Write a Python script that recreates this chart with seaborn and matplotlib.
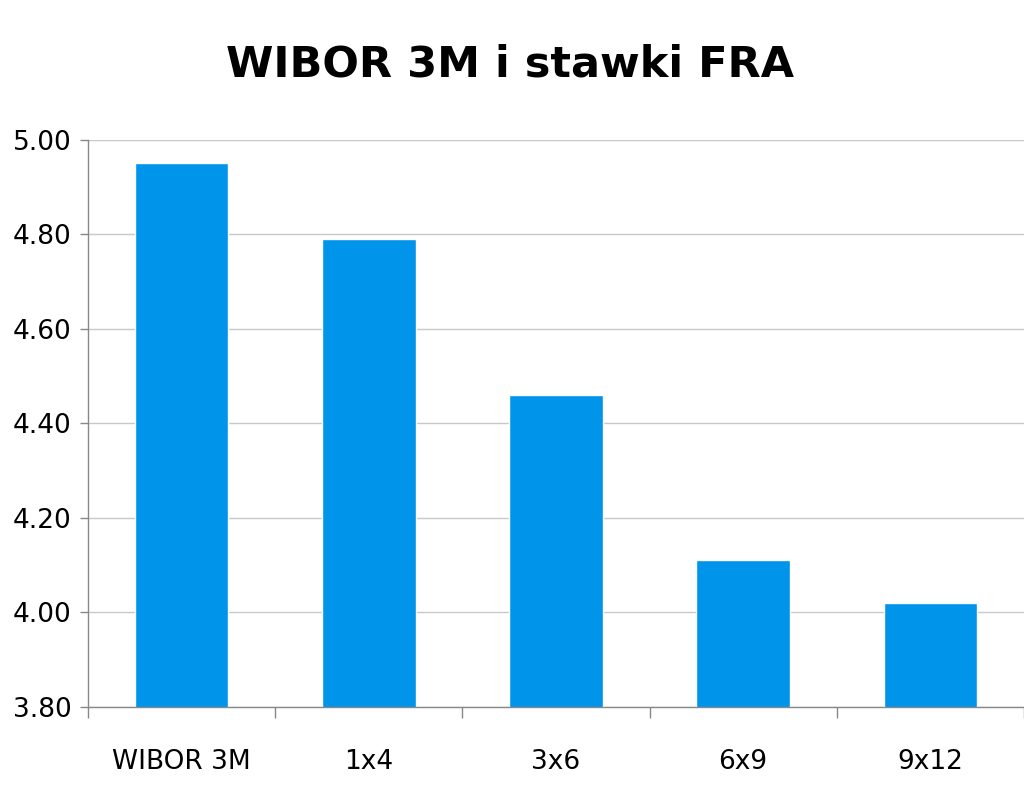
import numpy as np
import seaborn as sns
import matplotlib.pyplot as plt
from matplotlib.ticker import FixedLocator

categories = ["WIBOR 3M", "1x4", "3x6", "6x9", "9x12"]
rates = [4.95, 4.79, 4.46, 4.11, 4.02]
y_ticks = [3.80, 4.00, 4.20, 4.40, 4.60, 4.80, 5.00]

sns.set_theme(style="white")
plt.rcParams["font.family"] = ["DejaVu Sans"]

fig = plt.figure(figsize=(10.24, 7.91), dpi=100)
ax = fig.add_axes([0.0859, 0.1062, 0.914, 0.717])

sns.barplot(x=categories, y=rates, color="#0095EA", width=0.5, saturation=1, ax=ax)

ax.set_ylim(3.80, 5.00)
ax.set_xlim(-0.5, len(categories) - 0.5)
ax.set_yticks(y_ticks)
ax.set_yticklabels([f"{v:.2f}" for v in y_ticks], fontsize=19)
ax.set_xticks(range(len(categories)))
ax.set_xticklabels(categories, fontsize=19)
ax.xaxis.set_minor_locator(FixedLocator(np.arange(-0.5, len(categories), 1.0)))
ax.tick_params(axis="x", which="major", length=0, pad=30, labelcolor="black")
ax.tick_params(axis="x", which="minor", length=8, width=1, color="#888888", bottom=True)
ax.tick_params(axis="y", length=6, width=1, color="#888888", left=True, pad=6,
               labelcolor="black")
ax.grid(axis="y", color="#c8c8c8", linewidth=1)
ax.set_axisbelow(True)
ax.set_xlabel("")
ax.set_ylabel("")

for side in ["top", "right"]:
    ax.spines[side].set_visible(False)
for side in ["left", "bottom"]:
    ax.spines[side].set_color("#888888")
    ax.spines[side].set_linewidth(1)

fig.text(0.498, 0.919, "WIBOR 3M i stawki FRA", ha="center", va="center",
         fontsize=31, fontweight="bold", color="black")

fig.savefig("out.png", dpi=100, facecolor="white")
